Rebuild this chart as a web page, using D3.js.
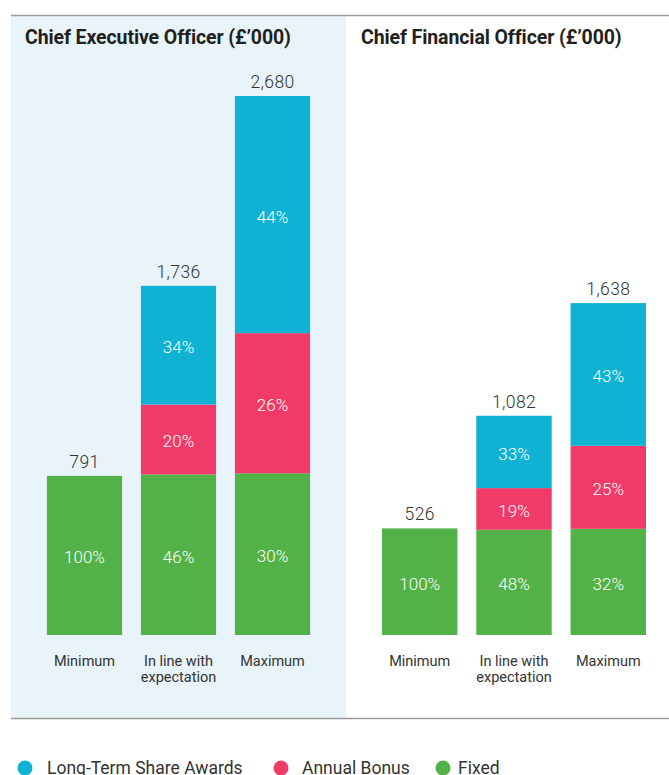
<!DOCTYPE html>
<html>
<head>
<meta charset="utf-8">
<script src="https://cdn.jsdelivr.net/npm/d3@7"></script>
<style>
  html, body { margin: 0; padding: 0; background: #ffffff; }
  svg { display: block; }
  text { font-family: Roboto, "Noto Sans", sans-serif; }
</style>
</head>
<body>
<svg id="chart" width="669" height="775"></svg>
<script>
// Scenario categories shared by both panels
const scenarios = ["Minimum", "In line with expectation", "Maximum"];
const scenarioLines = [["Minimum"], ["In line with", "expectation"], ["Maximum"]];

// Pay elements, stacked bottom to top
const elements = ["Fixed", "Annual Bonus", "Long-Term Share Awards"];
const legendOrder = ["Long-Term Share Awards", "Annual Bonus", "Fixed"];
const colours = ["#52b247", "#f03b68", "#10b2d4"];

// Chief Executive Officer: totals (£'000) and share of each element (%)
const ceoTotals = [791, 1736, 2680];
const ceoFixed = [100, 46, 30];
const ceoBonus = [0, 20, 26];
const ceoLtip = [0, 34, 44];

// Chief Financial Officer: totals (£'000) and share of each element (%)
const cfoTotals = [526, 1082, 1638];
const cfoFixed = [100, 48, 32];
const cfoBonus = [0, 19, 25];
const cfoLtip = [0, 33, 43];

const panels = [
  { title: "Chief Executive Officer (£’000)", totals: ceoTotals, shares: [ceoFixed, ceoBonus, ceoLtip],
    x0: 37.5, x1: 319.5, titleX: 25, yMax: 2680 },
  { title: "Chief Financial Officer (£’000)", totals: cfoTotals, shares: [cfoFixed, cfoBonus, cfoLtip],
    x0: 372.6, x1: 655.4, titleX: 361, yMax: 2660 }
];

const svg = d3.select("#chart");
const frameTop = 15, frameBottom = 718, frameLeft = 11, frameRight = 669;
const baseY = 635, topY = 96;

// Light panel behind the CEO chart
svg.append("rect")
  .attr("x", frameLeft).attr("y", frameTop)
  .attr("width", 346 - frameLeft).attr("height", frameBottom - frameTop)
  .attr("fill", "#e8f4fa");

// Rules above and below the charts
[frameTop, frameBottom].forEach(y => {
  svg.append("line")
    .attr("x1", frameLeft).attr("x2", frameRight)
    .attr("y1", y + 0.5).attr("y2", y + 0.5)
    .attr("stroke", "#9a9a9a").attr("stroke-width", 1.3);
});

const fmt = d3.format(",");

panels.forEach(p => {
  const g = svg.append("g");

  g.append("text")
    .attr("x", p.titleX).attr("y", 44)
    .attr("font-size", 19.5).attr("font-weight", 700)
    .attr("fill", "#231f20")
    .attr("letter-spacing", -0.1)
    .text(p.title);

  const x = d3.scaleBand().domain(scenarios).range([p.x0, p.x1])
    .paddingInner(0.2).paddingOuter(0.1);
  const y = d3.scaleLinear().domain([0, p.yMax]).range([baseY, topY]);

  // Build stacked segments from totals and percentage shares
  const rows = scenarios.map((s, i) => {
    const row = { scenario: s, total: p.totals[i] };
    elements.forEach((e, k) => { row[e] = p.totals[i] * p.shares[k][i] / 100; });
    return row;
  });
  const stack = d3.stack().keys(elements)(rows);

  stack.forEach((layer, k) => {
    layer.forEach((seg, i) => {
      const share = p.shares[k][i];
      if (share <= 0) return;
      const yTop = y(seg[1]), yBot = y(seg[0]);
      g.append("rect")
        .attr("x", x(scenarios[i])).attr("width", x.bandwidth())
        .attr("y", yTop).attr("height", yBot - yTop)
        .attr("fill", colours[k]);
      g.append("text")
        .attr("x", x(scenarios[i]) + x.bandwidth() / 2)
        .attr("y", (yTop + yBot) / 2 + 2)
        .attr("dy", "0.35em")
        .attr("text-anchor", "middle")
        .attr("font-size", 17).attr("font-weight", 300)
        .attr("fill", "#ffffff")
        .text(share + "%");
    });
  });

  // Totals above each bar
  rows.forEach(r => {
    g.append("text")
      .attr("x", x(r.scenario) + x.bandwidth() / 2)
      .attr("y", y(r.total) - 8)
      .attr("text-anchor", "middle")
      .attr("font-size", 17.5).attr("font-weight", 300)
      .attr("fill", "#333333")
      .attr("letter-spacing", 0.4)
      .text(fmt(r.total));
  });

  // Category labels
  scenarios.forEach((s, i) => {
    const t = g.append("text")
      .attr("x", x(s) + x.bandwidth() / 2)
      .attr("y", 666)
      .attr("text-anchor", "middle")
      .attr("font-size", 14.5).attr("font-weight", 400)
      .attr("fill", "#333333");
    scenarioLines[i].forEach((line, j) => {
      t.append("tspan")
        .attr("x", x(s) + x.bandwidth() / 2)
        .attr("dy", j === 0 ? 0 : 16)
        .text(line);
    });
  });
});

// Legend
const legendX = [25, 281, 443];
const legendTextX = [47, 302, 458];
legendOrder.forEach((name, i) => {
  const k = elements.indexOf(name);
  svg.append("circle")
    .attr("cx", legendX[i]).attr("cy", 768).attr("r", 7.5)
    .attr("fill", colours[k]);
  svg.append("text")
    .attr("x", legendTextX[i]).attr("y", 774)
    .attr("font-size", 17.5).attr("font-weight", 400)
    .attr("fill", "#333333")
    .text(name);
});
</script>
</body>
</html>
